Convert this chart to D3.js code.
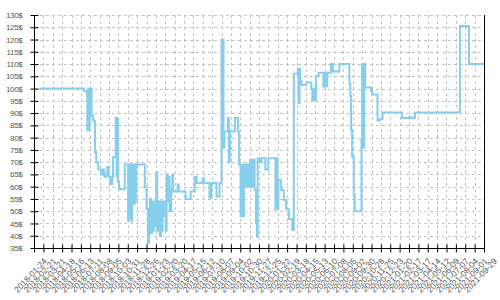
<!DOCTYPE html>
<html>
<head>
<meta charset="utf-8">
<script src="https://cdn.jsdelivr.net/npm/d3@7/dist/d3.min.js"></script>
<style>
  body { margin: 0; background: #fff; }
  text { font-family: "Liberation Sans", Arial, sans-serif; fill: #555; }
</style>
</head>
<body>
<svg width="500" height="300"></svg>
<script>
// price history (step changes)
const priceDates = [
  '2018-02-08', '2018-06-23', '2018-07-02', '2018-07-05', '2018-07-07', '2018-07-09',
  '2018-07-15', '2018-07-19', '2018-07-25', '2018-07-29', '2018-08-04', '2018-08-12',
  '2018-08-18', '2018-08-22', '2018-08-27', '2018-08-31', '2018-09-04', '2018-09-09',
  '2018-09-15', '2018-09-17', '2018-09-25', '2018-09-28', '2018-09-30', '2018-10-02',
  '2018-10-05', '2018-10-22', '2018-11-01', '2018-11-03', '2018-11-06', '2018-11-09',
  '2018-11-11', '2018-11-13', '2018-11-18', '2018-11-21', '2018-11-23', '2018-11-25',
  '2018-12-21', '2018-12-26', '2018-12-30', '2019-01-02', '2019-01-05', '2019-01-08',
  '2019-01-11', '2019-01-14', '2019-01-17', '2019-01-20', '2019-01-24', '2019-01-27',
  '2019-01-30', '2019-02-04', '2019-02-07', '2019-02-09', '2019-02-12', '2019-02-15',
  '2019-02-18', '2019-02-21', '2019-02-24', '2019-02-27', '2019-03-02', '2019-03-05',
  '2019-03-10', '2019-03-13', '2019-03-15', '2019-03-29', '2019-04-01', '2019-04-22',
  '2019-05-07', '2019-05-19', '2019-05-25', '2019-06-12', '2019-06-15', '2019-07-02',
  '2019-07-08', '2019-07-23', '2019-08-01', '2019-08-07', '2019-08-13', '2019-08-16',
  '2019-08-26', '2019-08-29', '2019-09-01', '2019-09-16', '2019-09-25', '2019-09-28',
  '2019-10-03', '2019-10-06', '2019-10-09', '2019-10-13', '2019-10-18', '2019-10-24',
  '2019-10-27', '2019-10-31', '2019-11-05', '2019-11-08', '2019-11-14', '2019-11-18',
  '2019-11-21', '2019-11-23', '2019-11-29', '2019-12-04', '2019-12-16', '2019-12-25',
  '2020-01-15', '2020-01-18', '2020-01-21', '2020-01-24', '2020-02-01', '2020-02-09',
  '2020-02-16', '2020-02-24', '2020-03-05', '2020-03-10', '2020-03-22', '2020-03-24',
  '2020-03-27', '2020-03-29', '2020-04-02', '2020-04-16', '2020-05-01', '2020-05-04',
  '2020-05-09', '2020-05-12', '2020-05-15', '2020-05-23', '2020-06-06', '2020-06-09',
  '2020-06-14', '2020-06-18', '2020-06-29', '2020-07-04', '2020-07-24', '2020-08-23',
  '2020-08-26', '2020-08-28', '2020-08-31', '2020-09-04', '2020-09-05', '2020-09-08',
  '2020-09-28', '2020-09-30', '2020-10-03', '2020-10-06', '2020-10-09', '2020-10-27',
  '2020-10-30', '2020-11-15', '2020-11-22', '2020-11-30', '2021-01-27', '2021-02-17',
  '2021-02-22', '2021-03-07', '2021-07-19', '2021-08-15', '2021-09-29'
];

const prices = [
  100, 99, 83, 100, 83, 100,
  89, 87, 74, 70, 67, 65,
  67, 64, 65, 68, 64, 61,
  64, 72, 88, 64, 88, 62,
  59, 69, 46, 69, 47, 69,
  46, 69, 53, 69, 54, 69,
  60, 51, 37, 44, 55, 41,
  54, 42, 54, 44, 66, 42,
  54, 40, 54, 42, 54, 48,
  54, 42, 65, 54, 64, 50,
  59, 65, 58, 61, 58, 55,
  58, 64, 61.5, 63.5, 61.5, 55.5,
  61.5, 56, 61.5, 120, 76, 82.5,
  88, 70, 82.5, 88, 82.5, 69,
  48, 69, 48, 69, 60, 69,
  60, 71, 60, 71, 58.6, 45,
  39.6, 71.6, 70, 71.6, 67, 71.6,
  50.8, 71.6, 51, 62.7, 58.6, 54.6,
  50.8, 46.8, 42.3, 106, 108, 94,
  108, 103, 101.5, 102.5, 100, 95.3,
  100, 95.3, 105, 106.5, 100.8, 106.5,
  101, 106.5, 110, 107, 110, 102,
  97, 83, 72.5, 71.6, 56.6, 50,
  79, 110, 76, 110, 100.4, 99,
  97.6, 87, 87.6, 90.2, 88, 88.5,
  88, 90.2, 125.5, 110, 110
];

const xTickLabels = [
  '2018-01-24', '2018-02-21', '2018-03-21', '2018-04-18', '2018-05-16', '2018-06-13',
  '2018-07-11', '2018-08-08', '2018-09-05', '2018-10-03', '2018-10-31', '2018-11-28',
  '2018-12-26', '2019-01-23', '2019-02-20', '2019-03-20', '2019-04-17', '2019-05-15',
  '2019-06-12', '2019-07-10', '2019-08-07', '2019-09-04', '2019-10-02', '2019-10-30',
  '2019-11-27', '2019-12-25', '2020-01-22', '2020-02-19', '2020-03-18', '2020-04-15',
  '2020-05-13', '2020-06-10', '2020-07-08', '2020-08-05', '2020-09-02', '2020-09-30',
  '2020-10-28', '2020-11-25', '2020-12-23', '2021-01-20', '2021-02-17', '2021-03-17',
  '2021-04-14', '2021-05-12', '2021-06-09', '2021-07-07', '2021-08-04', '2021-09-01',
  '2021-09-29'
];

const yTickValues = [35, 40, 45, 50, 55, 60, 65, 70, 75, 80, 85, 90, 95, 100, 105, 110, 115, 120, 125, 130];

const parse = d3.utcParse('%Y-%m-%d');
const points = priceDates.map((d, i) => ({ date: parse(d), price: prices[i] }));
const tickDates = xTickLabels.map(parse);

const plotLeft = 34, plotRight = 484, plotTop = 15, plotBottom = 248;

const svg = d3.select('svg');

const x = d3.scaleUtc()
  .domain([tickDates[0], tickDates[tickDates.length - 1]])
  .range([plotLeft, plotRight]);

const y = d3.scaleLinear()
  .domain([35, 130])
  .range([plotBottom, plotTop]);

// dashed grid
const grid = svg.append('g')
  .attr('stroke', '#c4c4c4')
  .attr('stroke-dasharray', '3,3')
  .attr('shape-rendering', 'crispEdges');

grid.selectAll('line.h')
  .data(yTickValues.slice(1))
  .enter()
  .append('line')
  .attr('x1', plotLeft)
  .attr('x2', plotRight)
  .attr('y1', d => Math.round(y(d)) + 0.5)
  .attr('y2', d => Math.round(y(d)) + 0.5);

grid.selectAll('line.v')
  .data(tickDates.slice(1, -1))
  .enter()
  .append('line')
  .attr('x1', d => Math.round(x(d)) + 0.5)
  .attr('x2', d => Math.round(x(d)) + 0.5)
  .attr('y1', plotTop)
  .attr('y2', plotBottom);

// price line
const line = d3.line()
  .x(d => x(d.date))
  .y(d => y(d.price))
  .curve(d3.curveStepAfter);

svg.append('path')
  .datum(points)
  .attr('fill', 'none')
  .attr('stroke', '#87ceeb')
  .attr('stroke-width', 2)
  .attr('d', line);

// y axis
const yAxis = svg.append('g')
  .attr('transform', `translate(${plotLeft + 0.5},0)`)
  .call(d3.axisLeft(y).tickValues(yTickValues).tickSize(4).tickPadding(8)
    .tickFormat(d => d + '$'));

yAxis.selectAll('.tick line').attr('x1', 4);
yAxis.selectAll('.tick text')
  .style('font-size', '8px')
  .attr('letter-spacing', '-0.3')
  .attr('fill', '#555');

// x axis
const xAxis = svg.append('g')
  .attr('transform', `translate(0,${plotBottom + 0.5})`)
  .call(d3.axisBottom(x).tickValues(tickDates).tickSize(4).tickFormat(d3.utcFormat('%Y-%m-%d')));

xAxis.selectAll('.tick line').attr('y1', -4);
xAxis.selectAll('.tick text')
  .style('font-size', '8.5px')
  .attr('fill', '#555')
  .attr('text-anchor', 'end')
  .attr('dy', null)
  .attr('y', null)
  .attr('transform', 'translate(13,13) rotate(-47)');

svg.selectAll('.domain').attr('stroke', '#000');
svg.selectAll('.tick line').attr('stroke', '#000');
xAxis.select('.domain').attr('d', `M${plotLeft},0H${plotRight + 1}`);
yAxis.select('.domain').attr('d', `M0,${plotTop}V${plotBottom}`);

// right border
svg.append('line')
  .attr('x1', plotRight + 0.5)
  .attr('x2', plotRight + 0.5)
  .attr('y1', plotTop)
  .attr('y2', plotBottom)
  .attr('stroke', '#000');
</script>
</body>
</html>
